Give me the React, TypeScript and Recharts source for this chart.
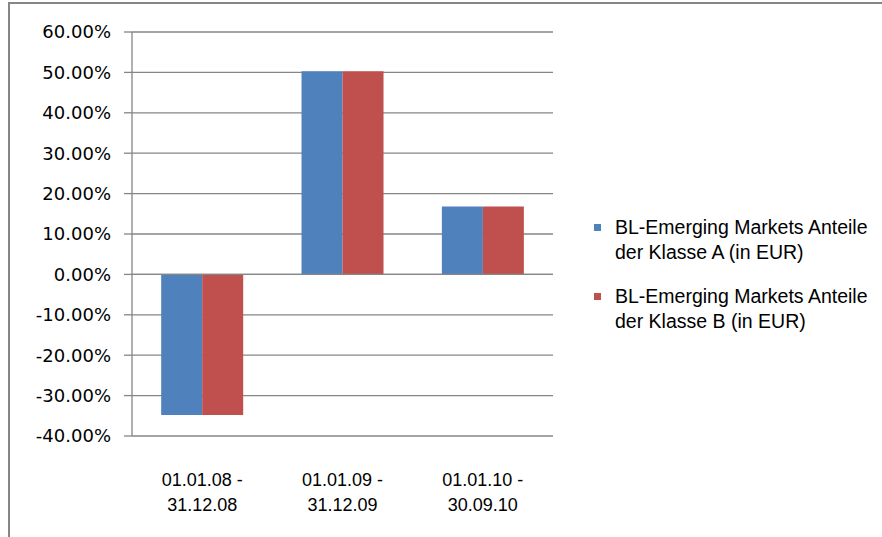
import { BarChart, Bar, XAxis, YAxis, CartesianGrid, Legend, ReferenceLine } from "recharts"

const periods = ["01.01.08 - 31.12.08", "01.01.09 - 31.12.09", "01.01.10 - 30.09.10"]
const klasseA = [-34.8, 50.3, 16.8]
const klasseB = [-34.8, 50.3, 16.8]
const yTicks = [-40, -30, -20, -10, 0, 10, 20, 30, 40, 50, 60]
const seriesNames = [
  "BL-Emerging Markets Anteile der Klasse A (in EUR)",
  "BL-Emerging Markets Anteile der Klasse B (in EUR)",
]

const data = periods.map((p, i) => ({ period: p, a: klasseA[i], b: klasseB[i] }))

const GRID = "#868686"

const PeriodTick = (props: any) => {
  const { x, y, payload } = props
  const [from, to] = String(payload.value).split(" - ")
  return (
    <text x={x} y={y} textAnchor="middle" fill="#000" fontSize={18} fontFamily="Liberation Sans, Arial, sans-serif">
      <tspan x={x} dy={42}>{from + " -"}</tspan>
      <tspan x={x} dy={25}>{to}</tspan>
    </text>
  )
}

const LegendBox = (props: any) => {
  const { payload } = props
  return (
    <div style={{ fontFamily: "Liberation Sans, Arial, sans-serif", fontSize: 19.5, color: "#000" }}>
      {payload.map((entry: any, i: number) => (
        <div key={i} style={{ display: "flex", alignItems: "flex-start", marginBottom: 19 }}>
          <div style={{ width: 7, height: 7, background: entry.color, marginTop: 9, marginRight: 14 }} />
          <div style={{ lineHeight: "25px", whiteSpace: "pre-line" }}>
            {String(entry.value).replace(" der ", "\nder ")}
          </div>
        </div>
      ))}
    </div>
  )
}

const App = () => {
  return (
    <div style={{ position: "absolute", left: 0, top: 0, width: 882, height: 537, overflow: "hidden", background: "#fff" }}>
      <div
        style={{
          position: "absolute",
          left: 8,
          top: 2,
          width: 1000,
          height: 1000,
          borderLeft: `2px solid ${GRID}`,
          borderTop: `2px solid ${GRID}`,
        }}
      />
      <div style={{ position: "absolute", left: 0, top: 0 }}>
        <BarChart
          width={882}
          height={537}
          data={data}
          margin={{ top: 32, right: 329, bottom: 0, left: 0 }}
          barCategoryGap="20.8%"
          barGap={0}
        >
          <CartesianGrid vertical={false} stroke={GRID} strokeWidth={1.3} />
          <XAxis
            dataKey="period"
            axisLine={false}
            tickLine={false}
            tick={<PeriodTick />}
            interval={0}
            height={101}
          />
          <YAxis
            domain={[-40, 60]}
            ticks={yTicks}
            interval={0}
            width={132}
            tickSize={8}
            tickMargin={13}
            axisLine={{ stroke: GRID, strokeWidth: 1.3 }}
            tickLine={{ stroke: GRID, strokeWidth: 1.3 }}
            tickFormatter={(v) => `${Number(v).toFixed(2)}%`}
            tick={{ fill: "#000", fontSize: 18, fontFamily: "DejaVu Sans, sans-serif" }}
          />
          <ReferenceLine y={0} stroke={GRID} strokeWidth={1.3} />
          <Legend
            layout="vertical"
            align="center"
            verticalAlign="middle"
            content={<LegendBox />}
            wrapperStyle={{ left: 594, top: 215, width: 285 }}
          />
          <Bar dataKey="a" name={seriesNames[0]} fill="#4F81BD" isAnimationActive={false} />
          <Bar dataKey="b" name={seriesNames[1]} fill="#C0504D" isAnimationActive={false} />
        </BarChart>
      </div>
    </div>
  )
}

export default App
